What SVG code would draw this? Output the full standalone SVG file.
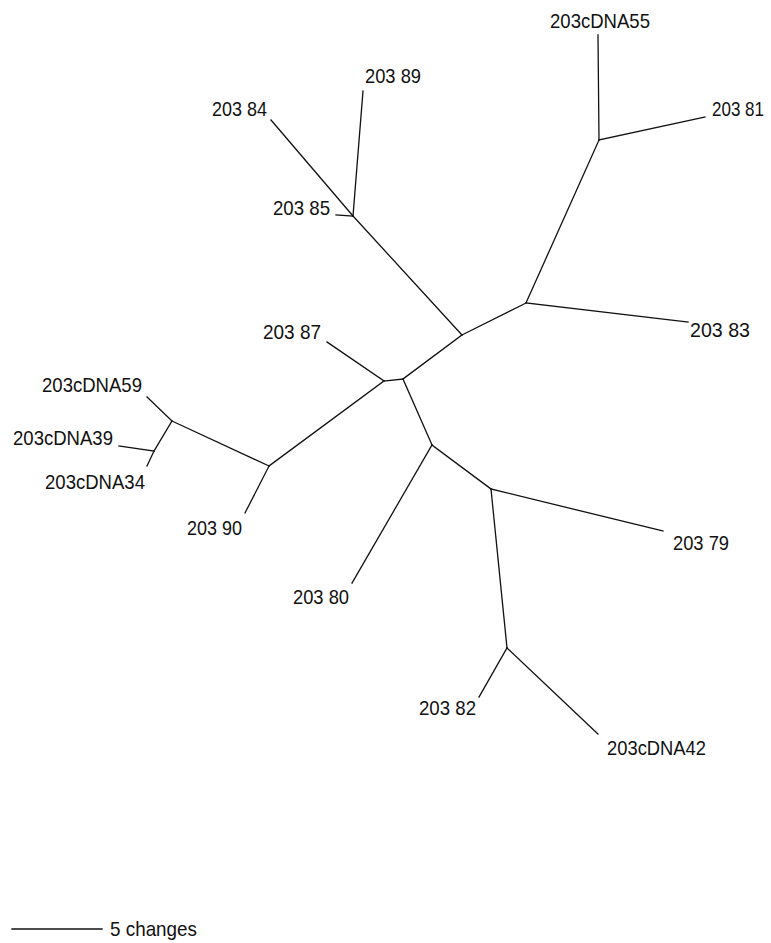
<svg xmlns="http://www.w3.org/2000/svg" width="771" height="943" viewBox="0 0 771 943">
<style>
.e{stroke:#111;stroke-width:1.3;fill:none;stroke-linecap:square}
.t{font-family:"Liberation Sans",Arial,sans-serif;font-size:21px;fill:#111}
</style>
<rect width="771" height="943" fill="#fff"/>
<g id="connectors">
<path class="e" d="M353,216L363,91"/>
<path class="e" d="M353,216L271,120"/>
<path class="e" d="M353,216L336,215"/>
<path class="e" d="M353,216L462,335"/>
<path class="e" d="M599,140L598,35"/>
<path class="e" d="M599,140L705,117"/>
<path class="e" d="M599,140L526,303"/>
<path class="e" d="M526,303L688,322"/>
<path class="e" d="M526,303L462,335"/>
<path class="e" d="M462,335L403,379"/>
<path class="e" d="M403,379L384,381"/>
<path class="e" d="M384,381L327,342"/>
<path class="e" d="M384,381L269,466"/>
<path class="e" d="M403,379L432,445"/>
<path class="e" d="M432,445L352,583"/>
<path class="e" d="M432,445L491,489"/>
<path class="e" d="M491,489L663,531"/>
<path class="e" d="M491,489L507,648"/>
<path class="e" d="M507,648L479,697"/>
<path class="e" d="M507,648L598,734"/>
<path class="e" d="M269,466L172,421"/>
<path class="e" d="M269,466L245,513"/>
<path class="e" d="M172,421L147,397"/>
<path class="e" d="M172,421L154,451"/>
<path class="e" d="M154,451L119,446"/>
<path class="e" d="M154,451L147,466"/>
<path class="e" d="M12,929L102,929"/>
</g>
<g id="n-cDNA55"><text class="t" x="550" y="28" textLength="100" lengthAdjust="spacingAndGlyphs">203cDNA55</text></g>
<g id="n-81"><text class="t" transform="translate(712,116) scale(0.81,1)" x="0" y="0">203 81</text></g>
<g id="n-89"><text class="t" x="365" y="83" textLength="56" lengthAdjust="spacingAndGlyphs">203 89</text></g>
<g id="n-84"><text class="t" x="212" y="116" textLength="55" lengthAdjust="spacingAndGlyphs">203 84</text></g>
<g id="n-85"><text class="t" x="273" y="215" textLength="57" lengthAdjust="spacingAndGlyphs">203 85</text></g>
<g id="n-83"><text class="t" x="690" y="337" textLength="60" lengthAdjust="spacingAndGlyphs">203 83</text></g>
<g id="n-87"><text class="t" x="263" y="339" textLength="58" lengthAdjust="spacingAndGlyphs">203 87</text></g>
<g id="n-cDNA59"><text class="t" x="42" y="392" textLength="100" lengthAdjust="spacingAndGlyphs">203cDNA59</text></g>
<g id="n-cDNA39"><text class="t" x="13" y="445" textLength="100" lengthAdjust="spacingAndGlyphs">203cDNA39</text></g>
<g id="n-cDNA34"><text class="t" x="45" y="489" textLength="100" lengthAdjust="spacingAndGlyphs">203cDNA34</text></g>
<g id="n-90"><text class="t" x="187" y="535" textLength="55" lengthAdjust="spacingAndGlyphs">203 90</text></g>
<g id="n-80"><text class="t" x="293" y="604" textLength="56" lengthAdjust="spacingAndGlyphs">203 80</text></g>
<g id="n-79"><text class="t" x="673" y="550" textLength="56" lengthAdjust="spacingAndGlyphs">203 79</text></g>
<g id="n-82"><text class="t" x="419" y="715" textLength="57" lengthAdjust="spacingAndGlyphs">203 82</text></g>
<g id="n-cDNA42"><text class="t" x="607" y="755" textLength="99" lengthAdjust="spacingAndGlyphs">203cDNA42</text></g>
<g id="scale"><text class="t" x="110" y="936" textLength="87" lengthAdjust="spacingAndGlyphs">5 changes</text></g>
</svg>
